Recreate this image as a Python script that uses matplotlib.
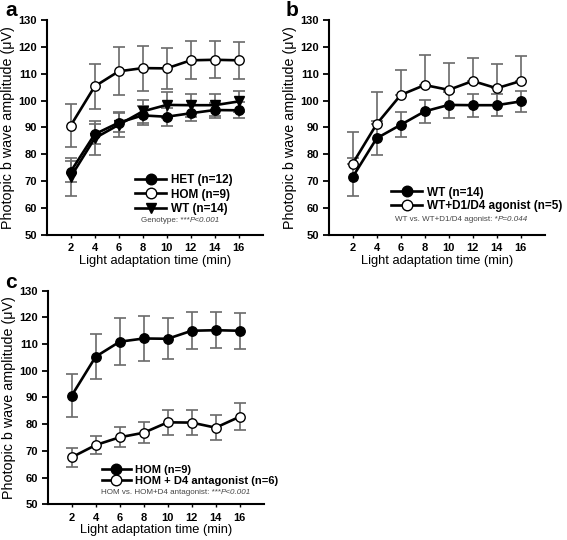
import matplotlib
matplotlib.use("Agg")
import matplotlib.pyplot as plt
from matplotlib.lines import Line2D
import numpy as np

plt.rcParams['font.family'] = ['Liberation Sans', 'DejaVu Sans']

# ---------------- data ----------------
time_min = [2, 4, 6, 8, 10, 12, 14, 16]
x_ticks = [2, 4, 6, 8, 10, 12, 14, 16]
y_ticks = [50, 60, 70, 80, 90, 100, 110, 120, 130]

het_mean = [73.6, 87.5, 91.8, 94.5, 94.0, 95.3, 96.5, 96.4]
het_err = [4.0, 3.8, 3.6, 3.4, 3.4, 3.0, 2.8, 3.0]

hom_mean = [90.7, 105.3, 110.9, 112.1, 112.0, 115.0, 115.2, 115.0]
hom_err = [8.0, 8.3, 8.9, 8.4, 7.7, 7.0, 6.8, 6.8]

wt_mean = [71.6, 86.0, 91.0, 96.0, 98.4, 98.3, 98.3, 99.7]
wt_err = [7.0, 6.3, 4.6, 4.3, 4.9, 4.3, 4.1, 4.0]

agonist_mean = [76.6, 91.3, 102.1, 105.8, 104.0, 107.3, 104.6, 107.3]
agonist_err = [11.8, 11.8, 9.3, 11.2, 10.0, 8.7, 9.0, 9.3]

antag_mean = [67.6, 72.2, 75.1, 76.8, 80.7, 80.6, 78.7, 82.8]
antag_err = [3.6, 3.4, 3.7, 4.0, 4.8, 4.8, 4.7, 5.0]

ylabel = "Photopic b wave amplitude (\u03bcV)"
xlabel = "Light adaptation time (min)"

# ---------------- style ----------------
ERRC = '#6a6a6a'
MS = 6.8
LW = 1.9

W, H = 567, 540
fig = plt.figure(figsize=(W / 100, H / 100), dpi=100)


def axes_px(left, top, right, bottom):
    return fig.add_axes([left / W, 1 - bottom / H, (right - left) / W, (bottom - top) / H])


def style_axes(ax):
    ax.set_xlim(0, 18)
    ax.set_ylim(50, 130)
    for s in ['top', 'right']:
        ax.spines[s].set_visible(False)
    for s in ['left', 'bottom']:
        ax.spines[s].set_linewidth(1.5)
    ax.set_xticks(x_ticks)
    ax.set_yticks(y_ticks)
    ax.tick_params(axis='x', length=2.5, width=1.0, pad=3.5, labelsize=8)
    ax.tick_params(axis='y', length=4.5, width=1.3, pad=2.5, labelsize=8)
    for lab in ax.get_xticklabels() + ax.get_yticklabels():
        lab.set_fontweight('bold')
    ax.set_xlabel(xlabel, fontsize=9.3, labelpad=1.0)
    ax.set_ylabel(ylabel, fontsize=10.3, labelpad=2.5)


def series(ax, mean, err, marker, filled, upper_only=False):
    if upper_only:
        yerr = [np.zeros(len(err)), err]
    else:
        yerr = err
    ax.errorbar(time_min, mean, yerr=yerr, fmt='none', ecolor=ERRC, elinewidth=1.2,
                capsize=4.5, capthick=1.2, zorder=2)
    ax.plot(time_min, mean, color='black', lw=LW, marker=marker, ms=MS,
            mfc='black' if filled else 'white', mec='black', mew=1.0, zorder=3)


def legend_handle(marker, filled):
    return Line2D([0], [0], color='black', lw=LW, marker=marker, ms=MS + 0.8,
                  mfc='black' if filled else 'white', mec='black', mew=1.0)


def note(ax, x, y, plain, ital):
    t = ax.text(x, y, plain, transform=ax.transAxes, fontsize=5.8, color='#444444',
                ha='left', va='center')
    ax.annotate(ital, xy=(1, 0), xycoords=t, fontsize=5.8, color='#444444',
                style='italic', ha='left', va='bottom')


# ---------------- panel a ----------------
axa = axes_px(46.7, 20, 262.7, 235)
style_axes(axa)
series(axa, hom_mean, hom_err, 'o', False)
series(axa, wt_mean, wt_err, 'v', True)
series(axa, het_mean, het_err, 'o', True)
axa.legend([legend_handle('o', True), legend_handle('o', False), legend_handle('v', True)],
           ['HET (n=12)', 'HOM (n=9)', 'WT (n=14)'],
           loc='upper left', bbox_to_anchor=(0.41, 0.283), frameon=False,
           prop={'weight': 'bold', 'size': 8.5}, handlelength=2.6, handletextpad=0.4,
           labelspacing=0.2, borderpad=0, borderaxespad=0)
note(axa, 0.435, 0.066, 'Genotype: ***', 'P<0.001')

# ---------------- panel b ----------------
axb = axes_px(328.7, 20, 544.7, 235)
style_axes(axb)
series(axb, agonist_mean, agonist_err, 'o', False, upper_only=True)
series(axb, wt_mean, wt_err, 'o', True)
axb.legend([legend_handle('o', True), legend_handle('o', False)],
           ['WT (n=14)', 'WT+D1/D4 agonist (n=5)'],
           loc='upper left', bbox_to_anchor=(0.29, 0.225), frameon=False,
           prop={'weight': 'bold', 'size': 8.5}, handlelength=2.6, handletextpad=0.4,
           labelspacing=0.15, borderpad=0, borderaxespad=0)
note(axb, 0.305, 0.074, 'WT vs. WT+D1/D4 agonist: *', 'P=0.044')

# ---------------- panel c ----------------
axc = axes_px(47.7, 290.7, 263.7, 504.3)
style_axes(axc)
series(axc, hom_mean, hom_err, 'o', True)
series(axc, antag_mean, antag_err, 'o', False)
axc.legend([legend_handle('o', True), legend_handle('o', False)],
           ['HOM (n=9)', 'HOM + D4 antagonist (n=6)'],
           loc='upper left', bbox_to_anchor=(0.25, 0.185), frameon=False,
           prop={'weight': 'bold', 'size': 8}, handlelength=2.6, handletextpad=0.4,
           labelspacing=0.12, borderpad=0, borderaxespad=0)
note(axc, 0.245, 0.055, 'HOM vs. HOM+D4 antagonist: ***', 'P<0.001')

# panel letters
for x, y, s in [(5, 10, 'a'), (286, 10, 'b'), (5, 283, 'c')]:
    fig.text(x / W, 1 - y / H, s, fontsize=15, fontweight='bold', ha='left', va='center')

fig.savefig('out.png', dpi=100)
